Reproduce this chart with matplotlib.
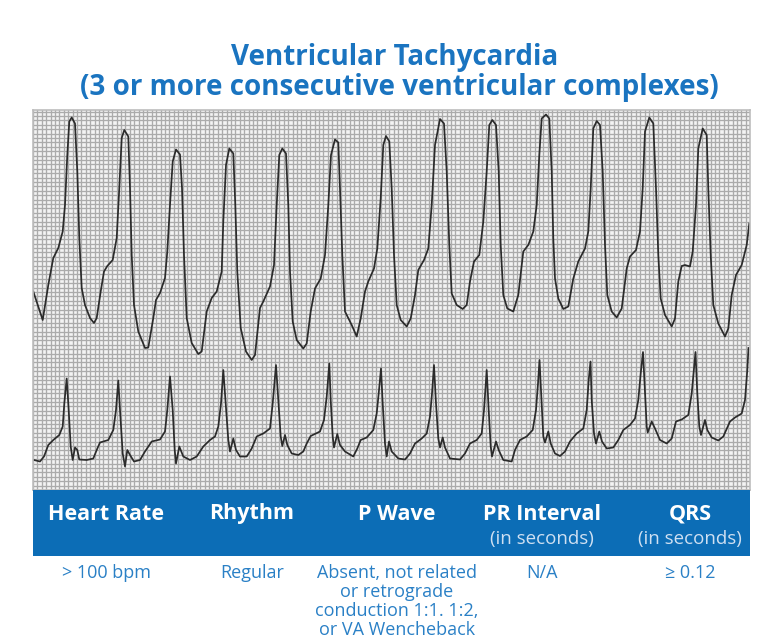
import numpy as np
import matplotlib as mpl
mpl.use("Agg")
import matplotlib.pyplot as plt

plt.rcParams['font.family'] = ['Open Sans', 'DejaVu Sans']

# traced from the strip: time (s), amplitude (mV) for each lead
lead1_t = [0.003, 0.097, 0.153, 0.203, 0.253, 0.297, 0.320, 0.343, 0.363, 0.387, 0.420, 0.443, 0.463, 0.487,
           0.520, 0.570, 0.610, 0.637, 0.677, 0.710, 0.743, 0.797, 0.837, 0.863, 0.887, 0.913, 0.953, 0.970,
           0.987, 1.010, 1.053, 1.120, 1.153, 1.203, 1.230, 1.270, 1.320, 1.343, 1.370, 1.397, 1.430, 1.470,
           1.490, 1.510, 1.537, 1.587, 1.653, 1.687, 1.737, 1.787, 1.837, 1.887, 1.903, 1.930, 1.963, 2.003,
           2.023, 2.043, 2.077, 2.130, 2.187, 2.220, 2.270, 2.303, 2.370, 2.410, 2.437, 2.463, 2.493, 2.530,
           2.553, 2.570, 2.597, 2.637, 2.703, 2.737, 2.777, 2.820, 2.877, 2.920, 2.953, 2.980, 3.020, 3.053,
           3.070, 3.093, 3.120, 3.187, 3.237, 3.277, 3.320, 3.353, 3.410, 3.443, 3.477, 3.503, 3.530, 3.563,
           3.587, 3.610, 3.637, 3.677, 3.737, 3.777, 3.820, 3.853, 3.910, 3.953, 3.987, 4.020, 4.070, 4.110,
           4.137, 4.163, 4.187, 4.237, 4.297, 4.337, 4.370, 4.410, 4.463, 4.503, 4.537, 4.563, 4.593, 4.630,
           4.657, 4.677, 4.703, 4.743, 4.803, 4.853, 4.903, 4.953, 5.003, 5.037, 5.063, 5.087, 5.130, 5.163,
           5.187, 5.203, 5.220, 5.253, 5.303, 5.353, 5.403, 5.453, 5.520, 5.553, 5.577, 5.603, 5.637, 5.670,
           5.697, 5.720, 5.743, 5.787, 5.837, 5.887, 5.937, 5.970, 6.030, 6.070, 6.097, 6.120, 6.163, 6.203,
           6.230, 6.253, 6.277, 6.320, 6.387, 6.420, 6.453, 6.487, 6.520, 6.570, 6.597, 6.630, 6.653, 6.697,
           6.737, 6.753, 6.777, 6.803, 6.853, 6.920, 6.953, 6.987, 7.030, 7.087, 7.137, 7.163]
lead1_mv = [0.17, -0.40, 0.30, 0.84, 1.04, 1.37, 1.90, 2.90, 3.57, 3.65, 3.53, 2.57, 1.24, 0.24,
            -0.10, -0.36, -0.46, -0.36, 0.17, 0.57, 0.68, 0.80, 1.24, 2.24, 3.24, 3.40, 3.27, 2.24,
            0.90, -0.10, -0.63, -0.96, -0.95, -0.36, 0.00, 0.14, 0.44, 0.97, 1.90, 2.77, 3.01, 2.91,
            2.24, 0.90, -0.36, -0.86, -1.08, -1.03, -0.23, 0.04, 0.17, 0.57, 1.57, 2.70, 3.03, 2.93,
            1.90, 0.57, -0.56, -1.03, -1.20, -1.10, -0.16, -0.03, 0.27, 0.70, 1.90, 2.90, 3.03, 2.93,
            1.90, 0.57, -0.43, -0.80, -0.97, -0.87, -0.23, 0.23, 0.43, 0.90, 1.90, 2.90, 3.21, 3.15,
            2.23, 0.90, -0.23, -0.50, -0.73, -0.37, 0.17, 0.37, 0.63, 1.03, 2.03, 3.10, 3.28, 3.17,
            2.23, 0.90, -0.10, -0.40, -0.53, -0.37, 0.10, 0.60, 0.80, 1.03, 1.90, 3.10, 3.62, 3.53,
            2.57, 1.10, 0.13, -0.10, -0.18, -0.10, 0.37, 0.77, 0.90, 1.57, 2.57, 3.50, 3.60, 3.50,
            2.57, 1.10, 0.10, -0.17, -0.23, 0.10, 0.97, 1.10, 1.37, 1.90, 2.90, 3.63, 3.71, 3.63,
            2.57, 1.23, 0.43, 0.03, -0.18, -0.13, 0.43, 0.77, 1.03, 1.37, 2.23, 3.43, 3.58, 3.50,
            2.57, 1.10, 0.10, -0.23, -0.35, -0.17, 0.63, 0.87, 1.00, 1.37, 2.23, 3.37, 3.65, 3.53,
            2.23, 0.90, 0.03, -0.30, -0.53, -0.37, 0.37, 0.68, 0.70, 0.67, 0.97, 1.90, 3.03, 3.43,
            3.30, 2.23, 0.90, -0.10, -0.47, -0.73, -0.57, 0.10, 0.50, 0.70, 1.10, 1.53]

lead2_t = [0.010, 0.070, 0.110, 0.153, 0.203, 0.263, 0.297, 0.313, 0.337, 0.357, 0.377, 0.397, 0.420, 0.443,
           0.463, 0.537, 0.603, 0.637, 0.670, 0.753, 0.803, 0.830, 0.853, 0.870, 0.897, 0.920, 0.943, 0.970,
           1.010, 1.070, 1.120, 1.187, 1.270, 1.320, 1.343, 1.370, 1.397, 1.417, 1.430, 1.463, 1.503, 1.570,
           1.637, 1.703, 1.770, 1.820, 1.853, 1.880, 1.903, 1.927, 1.953, 1.970, 2.003, 2.030, 2.070, 2.137,
           2.187, 2.237, 2.303, 2.370, 2.397, 2.430, 2.453, 2.477, 2.493, 2.520, 2.543, 2.587, 2.653, 2.703,
           2.737, 2.777, 2.870, 2.910, 2.937, 2.963, 2.977, 2.997, 3.010, 3.043, 3.070, 3.120, 3.203, 3.243,
           3.277, 3.337, 3.403, 3.437, 3.457, 3.480, 3.497, 3.520, 3.537, 3.560, 3.587, 3.653, 3.720, 3.770,
           3.820, 3.887, 3.937, 3.970, 3.990, 4.010, 4.030, 4.053, 4.070, 4.097, 4.120, 4.170, 4.270, 4.320,
           4.370, 4.437, 4.487, 4.510, 4.537, 4.557, 4.577, 4.590, 4.630, 4.657, 4.703, 4.787, 4.820, 4.870,
           4.937, 4.997, 5.030, 5.050, 5.065, 5.087, 5.103, 5.120, 5.153, 5.177, 5.220, 5.270, 5.320, 5.370,
           5.437, 5.503, 5.537, 5.557, 5.575, 5.587, 5.610, 5.630, 5.663, 5.690, 5.737, 5.803, 5.853, 5.903,
           5.970, 6.020, 6.053, 6.077, 6.100, 6.120, 6.137, 6.147, 6.187, 6.220, 6.270, 6.337, 6.387, 6.430,
           6.487, 6.553, 6.587, 6.625, 6.643, 6.663, 6.680, 6.720, 6.743, 6.787, 6.853, 6.903, 6.970, 7.020,
           7.087, 7.120, 7.143, 7.155]
lead2_mv = [-0.20, -0.23, -0.13, 0.10, 0.20, 0.30, 0.47, 0.93, 1.43, 0.80, 0.07, -0.20, 0.05, 0.00,
            -0.19, -0.20, -0.17, 0.00, 0.15, 0.20, 0.40, 0.80, 1.39, 0.80, -0.07, -0.33, 0.00, -0.10,
            -0.23, -0.20, -0.03, 0.17, 0.21, 0.37, 0.80, 1.47, 0.80, 0.00, -0.27, 0.07, -0.13, -0.20,
            -0.13, 0.07, 0.20, 0.27, 0.47, 0.93, 1.60, 0.93, 0.20, -0.03, 0.23, 0.00, -0.13, -0.13,
            0.03, 0.27, 0.33, 0.43, 0.93, 1.70, 1.00, 0.27, 0.08, 0.30, 0.10, -0.07, -0.10, -0.03,
            0.13, 0.28, 0.37, 0.60, 1.07, 1.73, 1.00, 0.27, 0.05, 0.32, 0.10, -0.03, -0.13, 0.03,
            0.20, 0.25, 0.40, 0.73, 1.13, 1.63, 0.93, 0.13, -0.13, 0.17, -0.03, -0.17, -0.19, -0.07,
            0.13, 0.23, 0.33, 0.67, 1.13, 1.70, 0.93, 0.23, 0.05, 0.25, 0.05, -0.17, -0.19, -0.07,
            0.13, 0.20, 0.33, 0.80, 1.60, 0.80, 0.07, -0.13, 0.17, 0.00, -0.20, -0.23, 0.00, 0.20,
            0.27, 0.40, 0.80, 1.33, 1.80, 0.93, 0.27, 0.15, 0.37, 0.13, -0.07, -0.12, -0.03, 0.17,
            0.33, 0.43, 0.80, 1.40, 1.77, 1.00, 0.33, 0.13, 0.37, 0.17, 0.03, 0.05, 0.20, 0.40,
            0.50, 0.63, 1.00, 1.53, 1.96, 1.13, 0.47, 0.35, 0.57, 0.43, 0.20, 0.13, 0.23, 0.57,
            0.61, 0.70, 1.13, 1.96, 1.13, 0.47, 0.30, 0.60, 0.40, 0.25, 0.19, 0.27, 0.57, 0.65,
            0.73, 1.00, 1.60, 2.04]

headers = ['Heart Rate', 'Rhythm', 'P Wave', 'PR Interval', 'QRS']
subheaders = ['', '', '', '(in seconds)', '(in seconds)']
values = ['> 100 bpm', 'Regular',
          'Absent, not related\nor retrograde\nconduction 1:1. 1:2,\nor VA Wencheback',
          'N/A', '\u2265 0.12']

title_blue = '#1a74c0'
band_blue = '#0c6db6'
text_blue = '#2a80c6'

W, H = 768, 644
fig = plt.figure(figsize=(W / 100, H / 100), dpi=100)

# ecg strip
ax = fig.add_axes([33 / W, 1 - 490 / H, 717 / W, 380 / H])
ax.set_facecolor('#f3f3f3')
ax.set_xlim(0, 7.17)
ax.set_ylim(0, 7.6)
ax.set_xticks(np.arange(0, 7.17, 0.044))
ax.set_yticks(np.arange(0, 7.6, 0.088))
ax.tick_params(length=0, labelbottom=False, labelleft=False)
ax.grid(True, color='#ababab', lw=0.95)
ax.set_axisbelow(True)
for s in ax.spines.values():
    s.set_color('#bdbdbd')
    s.set_linewidth(1.2)

ax.plot(lead1_t, np.array(lead1_mv) + 3.8, color='#2b2b2b', lw=1.25, solid_joinstyle='round')
ax.plot(lead2_t, np.array(lead2_mv) + 0.8, color='#2b2b2b', lw=1.25, solid_joinstyle='round')

# titles
fig.text(395 / W, 1 - 57 / H, 'Ventricular Tachycardia', ha='center', va='center',
         color=title_blue, fontsize=20, fontweight='bold')
fig.text(399 / W, 1 - 88 / H, '(3 or more consecutive ventricular complexes)', ha='center', va='center',
         color=title_blue, fontsize=20, fontweight='bold')

# blue header band
band = fig.add_axes([33 / W, 1 - 556 / H, 717 / W, 66 / H])
band.set_facecolor(band_blue)
band.set_xticks([])
band.set_yticks([])
for s in band.spines.values():
    s.set_visible(False)

centers = [106, 252, 397, 542, 690]
for cx, hd, sub, val in zip(centers, headers, subheaders, values):
    fig.text(cx / W, 1 - 514 / H, hd, ha='center', va='center', color='white',
             fontsize=15.5, fontweight='bold')
    if sub:
        fig.text(cx / W, 1 - 539 / H, sub, ha='center', va='center', color='#cfe0f2', fontsize=13.5)
    fig.text(cx / W, 1 - 564 / H, val, ha='center', va='top', color=text_blue,
             fontsize=13, linespacing=1.07)

fig.savefig('out.png', dpi=100)
